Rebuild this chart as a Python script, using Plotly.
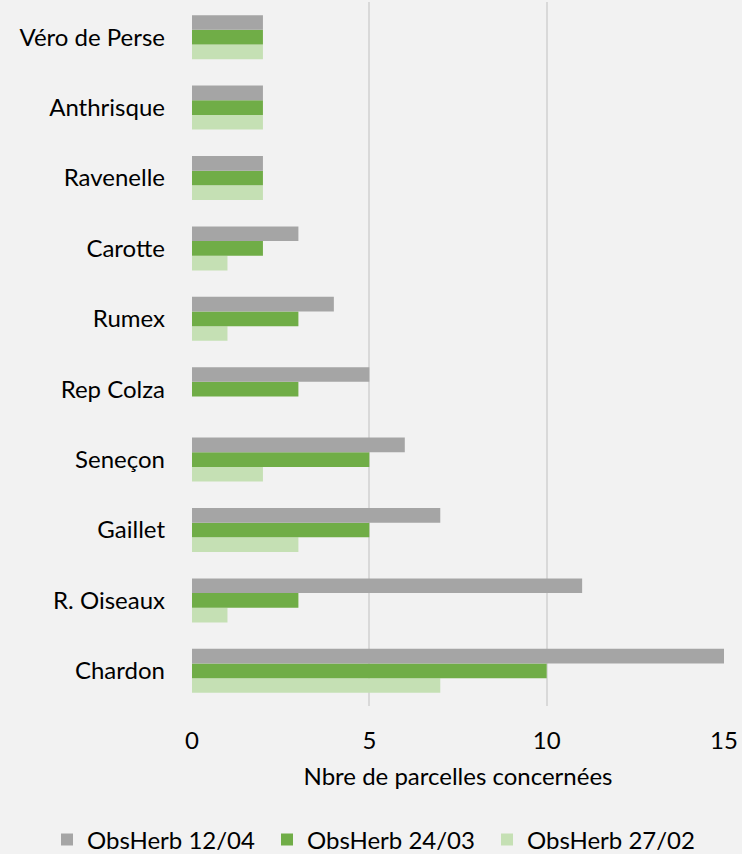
import plotly.graph_objects as go

categories = ["Chardon", "R. Oiseaux", "Gaillet", "Seneçon", "Rep Colza",
              "Rumex", "Carotte", "Ravenelle", "Anthrisque", "Véro de Perse"]
obs_1204 = [15, 11, 7, 6, 5, 4, 3, 2, 2, 2]
obs_2403 = [10, 3, 5, 5, 3, 3, 2, 2, 2, 2]
obs_2702 = [7, 1, 3, 2, 0, 1, 1, 2, 2, 2]
x_ticks = [0, 5, 10, 15]

FONT = "Lato"

fig = go.Figure()
fig.add_trace(go.Bar(y=categories, x=obs_2702, orientation="h", name="ObsHerb 27/02",
                     marker=dict(color="#C5E0B4", line=dict(width=0)), legend="legend3"))
fig.add_trace(go.Bar(y=categories, x=obs_2403, orientation="h", name="ObsHerb 24/03",
                     marker=dict(color="#70AD47", line=dict(width=0)), legend="legend2"))
fig.add_trace(go.Bar(y=categories, x=obs_1204, orientation="h", name="ObsHerb 12/04",
                     marker=dict(color="#A5A5A5", line=dict(width=0)), legend="legend"))

def leg(xpx):
    return dict(orientation="h", x=xpx / 742, xanchor="left", xref="container",
                y=(854 - 840) / 854, yanchor="middle", yref="container",
                font=dict(size=24), itemwidth=30, bgcolor="rgba(0,0,0,0)")

fig.update_layout(
    width=742, height=854,
    paper_bgcolor="#F2F2F2", plot_bgcolor="#F2F2F2",
    margin=dict(l=192, r=18, t=2, b=148, autoexpand=False),
    barmode="group", bargap=0.375, bargroupgap=0,
    font=dict(family=FONT, size=24, color="#000000"),
    showlegend=True,
    legend=leg(47), legend2=leg(267), legend3=leg(487),
    xaxis=dict(range=[0, 15], tickvals=x_ticks, showgrid=True, gridcolor="#D9D9D9",
               gridwidth=1.5, zeroline=False, showline=False, ticks="",
               ticklabelstandoff=18,
               title=dict(text="Nbre de parcelles concernées", standoff=15,
                          font=dict(size=24))),
    yaxis=dict(categoryorder="array", categoryarray=categories, showgrid=False,
               zeroline=False, showline=False, ticks="", ticklabelstandoff=26),
)

fig.write_html("out.html", config={"displayModeBar": False},
               post_script="document.body.style.margin='0';document.body.style.background='#F2F2F2';")
